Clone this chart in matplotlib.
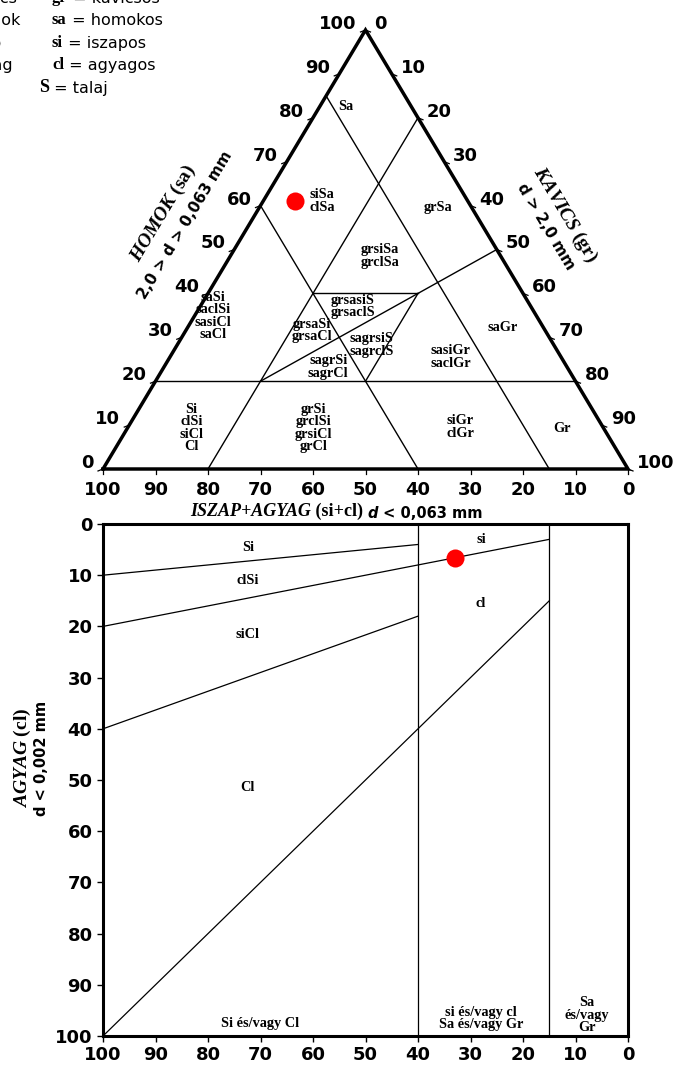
import numpy as np
import matplotlib.pyplot as plt

plt.rcParams['mathtext.fontset'] = 'custom'
plt.rcParams['mathtext.rm'] = 'Liberation Serif:bold'
plt.rcParams['mathtext.it'] = 'Liberation Serif:italic:bold'

W, H = 674, 1068
SERIF = 'Liberation Serif'
SANS = 'DejaVu Sans'

# ---- triangle (fines = si+cl, sand, gravel) in % ----
tri_ticks = [0, 10, 20, 30, 40, 50, 60, 70, 80, 90, 100]
# boundary segments, (sand, gravel) at each end
tri_seg_start = [(85, 0), (60, 0), (80, 20), (20, 0), (40, 20), (20, 20), (20, 40)]
tri_seg_end = [(0, 85), (0, 60), (0, 20), (20, 80), (40, 40), (50, 50), (40, 40)]

tri_names = ["Sa", "siSa\nclSa", "grSa", "grsiSa\ngrclSa", "grsasiS\ngrsaclS",
             "grsaSi\ngrsaCl", "sagrsiS\nsagrclS", "sagrSi\nsagrCl",
             "saSi\nsaclSi\nsasiCl\nsaCl", "saGr", "sasiGr\nsaclGr",
             "Si\nclSi\nsiCl\nCl", "grSi\ngrclSi\ngrsiCl\ngrCl", "siGr\nclGr", "Gr"]
tri_name_sand = [82.5, 61.0, 59.5, 48.5, 37.0, 31.6, 28.2, 23.2, 34.9, 32.3, 25.5, 9.3, 9.3, 9.6, 9.3]
tri_name_gravel = [4.9, 11.2, 34.1, 28.5, 29.1, 24.0, 37.1, 31.3, 3.5, 60.0, 53.5, 12.2, 35.5, 63.2, 82.8]

sample_sand, sample_gravel = 61, 6
sample_fines, sample_clay = 33, 6.7

# ---- fines chart: fines (si+cl) vs clay ----
fines_ticks = [100, 90, 80, 70, 60, 50, 40, 30, 20, 10, 0]
clay_ticks = [0, 10, 20, 30, 40, 50, 60, 70, 80, 90, 100]
fc_fines_a = [100, 100, 100, 100, 40, 15]
fc_clay_a = [10, 20, 40, 100, 0, 0]
fc_fines_b = [40, 15, 40, 15, 40, 15]
fc_clay_b = [4, 3, 18, 15, 100, 100]

fc_names = ["Si", "clSi", "siCl", "Cl", "si", "cl", "Si és/vagy Cl",
            "si és/vagy cl\nSa és/vagy Gr", "Sa\nés/vagy\nGr"]
fc_name_fines = [72.4, 72.4, 72.4, 72.4, 28, 28, 70, 28, 7.8]
fc_name_clay = [4.5, 11.1, 21.5, 51.4, 3.1, 15.6, 97.5, 96.6, 95.9]


def tern_xy(sand, gravel):
    return gravel + sand / 2.0, sand


def fig_box(left, top, right, bottom):
    return [left / W, 1 - bottom / H, (right - left) / W, (bottom - top) / H]


fig = plt.figure(figsize=(W / 100, H / 100), dpi=100)
ax_t = fig.add_axes(fig_box(103, 30, 628, 469))
ax_b = fig.add_axes(fig_box(103, 524, 628, 1036))
ax_o = fig.add_axes([0, 0, 1, 1])
ax_o.set_xlim(0, W)
ax_o.set_ylim(H, 0)
ax_o.set_axis_off()

tick_font = dict(family=SANS, weight='bold', fontsize=13)
name_font = dict(family=SERIF, weight='bold', fontsize=10.3)

# triangle
ax_t.set_xlim(0, 100)
ax_t.set_ylim(0, 100)
ax_t.set_axis_off()
cx, cy = tern_xy(np.array([0, 0, 100, 0]), np.array([0, 100, 0, 0]))
ax_t.plot(cx, cy, color='black', lw=2.5, solid_joinstyle='miter', clip_on=False, zorder=3)

for (s0, g0), (s1, g1) in zip(tri_seg_start, tri_seg_end):
    x0, y0 = tern_xy(s0, g0)
    x1, y1 = tern_xy(s1, g1)
    ax_t.plot([x0, x1], [y0, y1], color='black', lw=1.0, clip_on=False)

for v in tri_ticks:
    x, y = tern_xy(v, 0)
    ax_t.plot([x, x - 0.95], [y, y - 0.45], color='black', lw=0.9, clip_on=False)
    ax_t.annotate(str(v), (x, y), xytext=(-9, 6), textcoords='offset pixels',
                  ha='right', va='center', **tick_font)
    x, y = tern_xy(100 - v, v)
    ax_t.plot([x, x + 0.95], [y, y - 0.45], color='black', lw=0.9, clip_on=False)
    ax_t.annotate(str(v), (x, y), xytext=(9, 6), textcoords='offset pixels',
                  ha='left', va='center', **tick_font)
    x, y = tern_xy(0, 100 - v)
    ax_t.plot([x, x], [y, y - 1.1], color='black', lw=0.9, clip_on=False)
    ax_t.annotate(str(v), (x, y), xytext=(0, -21), textcoords='offset pixels',
                  ha='center', va='center', **tick_font)

for name, s, g in zip(tri_names, tri_name_sand, tri_name_gravel):
    x, y = tern_xy(s, g)
    ax_t.text(x, y, name, ha='center', va='center', multialignment='center',
              linespacing=0.95, **name_font)

px, py = tern_xy(sample_sand, sample_gravel)
ax_t.plot(px, py, 'o', color='#ff0000', ms=13, mec='none', zorder=5)

# fines chart
ax_b.set_xlim(100, 0)
ax_b.set_ylim(100, 0)
ax_b.set_xticks(fines_ticks)
ax_b.set_yticks(clay_ticks)
ax_b.tick_params(direction='out', length=4.5, width=1, labelsize=13, pad=3)
for lab in ax_b.get_xticklabels() + ax_b.get_yticklabels():
    lab.set_fontweight('bold')
    lab.set_family(SANS)
for sp in ax_b.spines.values():
    sp.set_linewidth(2.2)
for fa, ca, fb, cb in zip(fc_fines_a, fc_clay_a, fc_fines_b, fc_clay_b):
    ax_b.plot([fa, fb], [ca, cb], color='black', lw=0.9)
for name, f, c in zip(fc_names, fc_name_fines, fc_name_clay):
    ax_b.text(f, c, name, ha='center', va='center', multialignment='center',
              linespacing=0.95, **name_font)
ax_b.plot(sample_fines, sample_clay, 'o', color='#ff0000', ms=13, mec='none', zorder=5)


# texts made of several fonts, put one after the other
def chain(x, y, parts):
    t = ax_o.text(x, y, parts[0][0], ha='left', va='center', **parts[0][1])
    for s, kw in parts[1:]:
        t = ax_o.annotate(s, xy=(1, 0), xycoords=t, ha='left', va='bottom', **kw)
    return t


key_font = dict(family=SERIF, weight='bold', fontsize=12)
word_font = dict(family=SANS, fontsize=11.5)
rows = [(-2, "Gr", "Kavics", "gr", "kavicsos"), (20, "Sa", "Homok", "sa", "homokos"),
        (43, "Si", "Iszap", "si", "iszapos"), (65, "Cl", "Agyag", "cl", "agyagos")]
for y, k1, w1, k2, w2 in rows:
    chain(-78, y, [(k1, key_font), (" = " + w1, word_font)])
    chain(52, y, [(k2, key_font), (" = " + w2, word_font)])
chain(39, 87, [("S", dict(family=SERIF, weight='bold', fontsize=13)), (" = talaj", word_font)])

ax_o.text(163, 213, r"$\mathit{HOMOK}$ (sa)", rotation=59, rotation_mode='anchor',
          ha='center', va='center', family=SERIF, weight='bold', fontsize=14)
ax_o.text(185, 225, "2,0 > d > 0,063 mm", rotation=59, rotation_mode='anchor',
          ha='center', va='center', family=SANS, weight='bold', fontsize=11)
ax_o.text(565, 215, r"$\mathit{KAVICS}$ (gr)", rotation=-59, rotation_mode='anchor',
          ha='center', va='center', family=SERIF, weight='bold', fontsize=14)
ax_o.text(546, 227, "d > 2,0 mm", rotation=-59, rotation_mode='anchor',
          ha='center', va='center', family=SANS, weight='bold', fontsize=11)

chain(190, 512, [("ISZAP+AGYAG", dict(family=SERIF, weight='bold', style='italic', fontsize=13)),
                 (" (si+cl) ", dict(family=SERIF, weight='bold', fontsize=13)),
                 ("d", dict(family=SANS, weight='bold', style='italic', fontsize=10.5)),
                 (" < 0,063 mm", dict(family=SANS, weight='bold', fontsize=10.5))])

ax_o.text(22, 758, r"$\mathit{AGYAG}$ (cl)", rotation=90, rotation_mode='anchor',
          ha='center', va='center', family=SERIF, weight='bold', fontsize=14)
ax_o.text(42, 758, "d < 0,002 mm", rotation=90, rotation_mode='anchor',
          ha='center', va='center', family=SANS, weight='bold', fontsize=10.5)

fig.savefig('out.png', dpi=100)
